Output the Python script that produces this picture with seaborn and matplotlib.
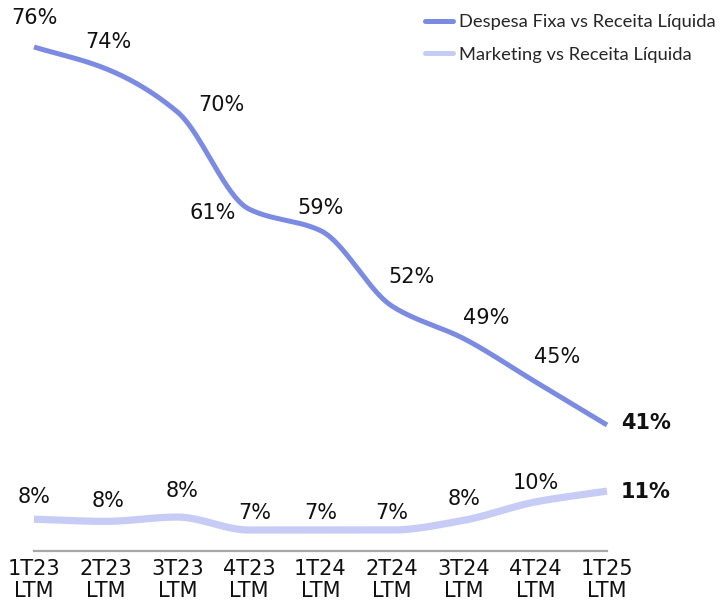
import numpy as np
import pandas as pd
import matplotlib
matplotlib.use("Agg")
import matplotlib.pyplot as plt
import seaborn as sns
from matplotlib.lines import Line2D

# ---- data ----
periods = ["1T23\nLTM", "2T23\nLTM", "3T23\nLTM", "4T23\nLTM", "1T24\nLTM",
           "2T24\nLTM", "3T24\nLTM", "4T24\nLTM", "1T25\nLTM"]
despesa = [76, 74, 70, 61, 59, 52, 49, 45, 41]
marketing = [8.0, 7.8, 8.2, 7.0, 7.0, 7.0, 7.9, 9.6, 10.6]
series_names = ["Despesa Fixa vs Receita Líquida", "Marketing vs Receita Líquida"]

# label offsets in pixels (dx, dy up)
desp_off = [(0, 29), (3, 27), (44, 7), (-36, -4), (0, 23), (19, 29), (22, 21), (22, 25), (14, 2)]
mkt_off = [(0, 22), (2, 20), (5, 26), (6, 17), (0, 17), (0, 17), (0, 21), (0, 19), (14, -1)]

C_DESP = "#7C8BE2"
C_MKT = "#C6CCF5"
FONT = "DejaVu Sans"
LEG_FONT = "Lato"


def pchip(x, y, n=40):
    x = np.asarray(x, float)
    y = np.asarray(y, float)
    h = np.diff(x)
    d = np.diff(y) / h
    m = np.zeros_like(y)
    for k in range(1, len(y) - 1):
        if d[k - 1] * d[k] <= 0:
            m[k] = 0.0
        else:
            w1 = 2 * h[k] + h[k - 1]
            w2 = h[k] + 2 * h[k - 1]
            m[k] = (w1 + w2) / (w1 / d[k - 1] + w2 / d[k])
    m[0] = d[0]
    m[-1] = d[-1]
    xs, ys = [], []
    for k in range(len(x) - 1):
        t = np.linspace(0, 1, n, endpoint=(k == len(x) - 2))
        h00 = 2 * t**3 - 3 * t**2 + 1
        h10 = t**3 - 2 * t**2 + t
        h01 = -2 * t**3 + 3 * t**2
        h11 = t**3 - t**2
        xs.append(x[k] + t * h[k])
        ys.append(h00 * y[k] + h10 * h[k] * m[k] + h01 * y[k + 1] + h11 * h[k] * m[k + 1])
    return np.concatenate(xs), np.concatenate(ys)


sns.set_theme(style="white")
plt.rcParams["font.family"] = [FONT]

W, H = 725, 607
fig = plt.figure(figsize=(W / 100, H / 100), dpi=100)

# pixel geometry
x0_px, x8_px = 34, 607
base_px = 551
pxu = (x8_px - x0_px) / 8.0
ppp = 10.8  # pixels per percentage point

ax = fig.add_axes([0, (H - base_px) / H, 1, base_px / H])
ax.set_xlim(-x0_px / pxu, 8 + (W - x8_px) / pxu)
# marketing axis: 7.0 at pixel 530
ax.set_ylim(7.0 - (base_px - 530) / ppp, 7.0 + 530 / ppp)

ax2 = ax.twinx()
# despesa axis: 76 at pixel 47
ax2.set_ylim(76 - (base_px - 47) / ppp, 76 + 47 / ppp)

idx = np.arange(len(periods))

xs, ys = pchip(idx, marketing)
sns.lineplot(x=xs, y=ys, ax=ax, color=C_MKT, linewidth=5.2, sort=False,
             estimator=None, solid_capstyle="butt", legend=False)
xs, ys = pchip(idx, despesa)
sns.lineplot(x=xs, y=ys, ax=ax2, color=C_DESP, linewidth=3.6, sort=False,
             estimator=None, solid_capstyle="butt", legend=False)

k = 0.72
for i, v in enumerate(despesa):
    dx, dy = desp_off[i]
    last = i == len(despesa) - 1
    ax2.annotate(f"{v:.0f}%", (i, v), xytext=(dx * k, dy * k), textcoords="offset points",
                 ha="left" if last else "center", va="center",
                 fontsize=15, fontweight="bold" if last else "normal", color="#111111")
for i, v in enumerate(marketing):
    dx, dy = mkt_off[i]
    last = i == len(marketing) - 1
    ax.annotate(f"{v:.0f}%", (i, v), xytext=(dx * k, dy * k), textcoords="offset points",
                ha="left" if last else "center", va="center",
                fontsize=15, fontweight="bold" if last else "normal", color="#111111")

for a in (ax, ax2):
    for s in a.spines.values():
        s.set_visible(False)
    a.set_yticks([])
    a.set_ylabel("")
ax.spines["bottom"].set_visible(True)
ax.spines["bottom"].set_bounds(0, 8)
ax.spines["bottom"].set_color("#A6A6A6")
ax.spines["bottom"].set_linewidth(1.6)
ax.set_xticks(idx)
ax.set_xticklabels(periods, fontsize=15, color="#111111", linespacing=1.1)
ax.tick_params(axis="x", length=0, pad=6)
ax.patch.set_alpha(0)
ax2.patch.set_alpha(0)

handles = [Line2D([], [], color=C_DESP, linewidth=3.6),
           Line2D([], [], color=C_MKT, linewidth=3.6)]
fig.legend(handles, series_names, loc="upper left", bbox_to_anchor=(425 / W, 1 - 14 / H),
           frameon=False, handlelength=1.53, handletextpad=0.35, borderpad=0,
           labelspacing=0.92, borderaxespad=0, prop={"family": LEG_FONT, "size": 13.2})

fig.savefig("out.png", dpi=100)
